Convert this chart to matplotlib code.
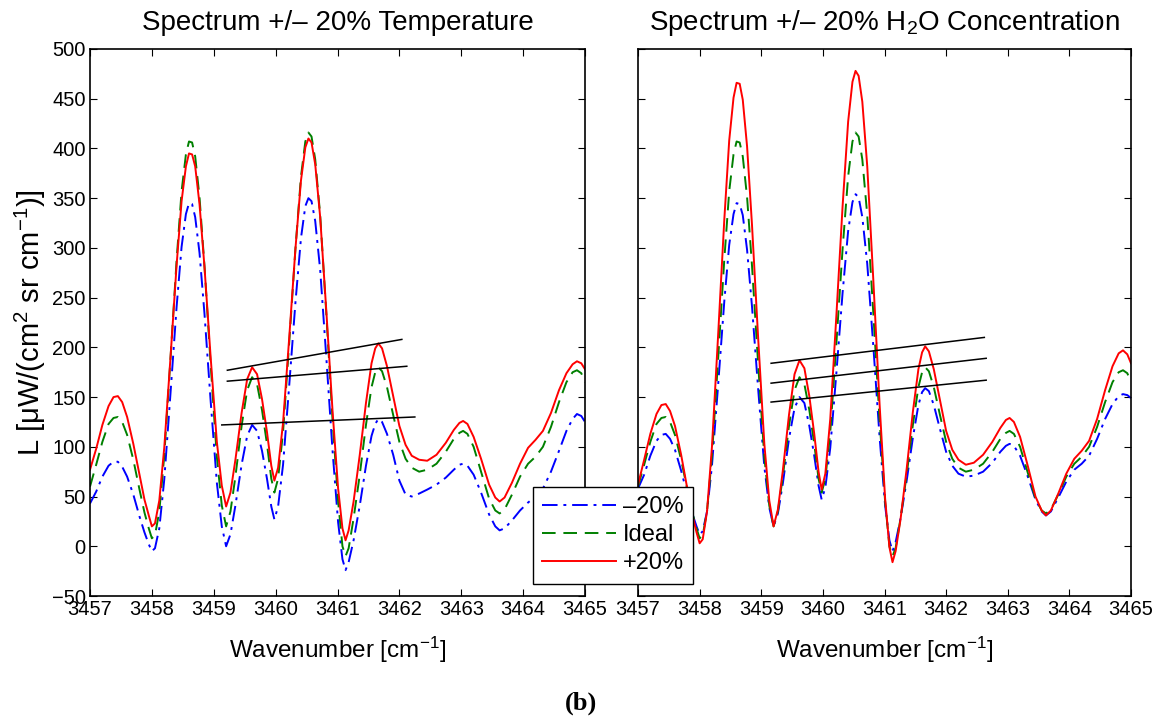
import numpy as np
import matplotlib
matplotlib.use("Agg")
import matplotlib.pyplot as plt

plt.rcParams['font.family'] = ['Liberation Sans', 'DejaVu Sans']
plt.rcParams['mathtext.fontset'] = 'custom'
plt.rcParams['mathtext.rm'] = 'Liberation Sans'
plt.rcParams['mathtext.it'] = 'Liberation Sans'

# ---- data ----
wavenumber = [3457.00, 3457.10, 3457.20, 3457.30, 3457.38, 3457.45, 3457.52, 3457.60, 3457.70, 3457.80,
              3457.88, 3457.95, 3458.00,
              3458.05, 3458.12, 3458.20, 3458.30, 3458.40, 3458.48, 3458.55, 3458.60, 3458.65, 3458.70,
              3458.77, 3458.85, 3458.95, 3459.05, 3459.13, 3459.20,
              3459.27, 3459.35, 3459.45, 3459.54, 3459.62, 3459.70, 3459.78, 3459.86, 3459.93, 3459.98,
              3460.04, 3460.12, 3460.22, 3460.32, 3460.41, 3460.48, 3460.53, 3460.58, 3460.64, 3460.72,
              3460.82, 3460.92, 3461.01, 3461.08, 3461.13,
              3461.18, 3461.26, 3461.36, 3461.46, 3461.55, 3461.61, 3461.66, 3461.72, 3461.80, 3461.90,
              3462.00, 3462.10, 3462.20, 3462.32,
              3462.45, 3462.60, 3462.75, 3462.88, 3462.97, 3463.03, 3463.10, 3463.20, 3463.32, 3463.45,
              3463.55, 3463.62, 3463.70, 3463.82, 3463.95, 3464.08, 3464.20, 3464.32, 3464.45, 3464.58,
              3464.70, 3464.80, 3464.87, 3464.94, 3465.00]

ideal = [60, 82, 105, 123, 129, 130, 125, 112, 87, 57, 34, 18, 8,
         11, 35, 91, 188, 288, 357, 394, 407, 406, 392, 351, 282, 183, 90, 41, 20,
         35, 70, 121, 157, 170, 163, 137, 103, 68, 54,
         68, 115, 205, 299, 372, 407, 416, 412, 389, 333, 233, 127, 45, 0, -10,
         -2, 28, 72, 122, 160, 175, 180, 176, 160, 132, 105, 88, 79, 75,
         77, 83, 95, 108, 114, 116, 113, 100, 75, 48, 36, 33, 37, 52, 70, 83, 90, 100, 120, 145,
         165, 175, 177, 174, 165]

temp_plus20 = [77, 98, 122, 141, 150, 151, 145, 130, 103, 72, 47, 31, 20,
               23, 46, 99, 189, 283, 347, 382, 395, 394, 382, 344, 281, 190, 105, 61, 40,
               54, 87, 134, 168, 180, 173, 148, 115, 81, 66,
               79, 124, 210, 299, 368, 401, 410, 406, 384, 331, 236, 136, 58, 18, 6,
               16, 45, 92, 144, 184, 199, 204, 199, 181, 151, 121, 102, 91, 87,
               86, 92, 104, 117, 124, 126, 123, 110, 88, 62, 49, 45, 49, 64, 83, 99, 107, 116, 134, 157,
               174, 183, 186, 184, 178]

temp_minus20 = [43, 55, 70, 81, 85, 85, 80, 70, 52, 30, 14, 2, -5,
                -2, 18, 67, 153, 241, 301, 334, 345, 344, 331, 295, 234, 146, 64, 20, 0,
                12, 41, 82, 111, 122, 116, 96, 68, 40, 27,
                40, 82, 162, 245, 310, 342, 350, 347, 327, 278, 189, 96, 24, -13, -24,
                -16, 6, 41, 81, 111, 123, 128, 125, 113, 92, 66, 52, 50, 53,
                57, 62, 69, 77, 82, 83, 81, 72, 54, 32, 20, 16, 18, 26, 36, 44, 50, 58, 75, 96,
                116, 128, 133, 131, 125]

h2o_plus20 = [62, 87, 113, 133, 142, 143, 136, 121, 92, 58, 32, 14, 3,
              7, 35, 100, 212, 328, 408, 451, 466, 465, 449, 402, 323, 209, 103, 46, 20,
              37, 76, 132, 173, 187, 179, 151, 113, 75, 57,
              73, 128, 233, 342, 427, 467, 478, 473, 447, 382, 266, 143, 48, -1, -16,
              -5, 27, 78, 135, 178, 195, 201, 196, 178, 147, 116, 97, 87, 82,
              84, 92, 105, 119, 127, 129, 125, 110, 82, 50, 36, 31, 36, 53, 73, 88, 96, 106, 128, 157,
              181, 194, 197, 193, 184]

h2o_minus20 = [58, 72, 91, 106, 112, 113, 108, 97, 76, 52, 33, 20, 12,
               15, 35, 81, 162, 246, 303, 334, 345, 344, 333, 298, 241, 158, 80, 39, 20,
               33, 63, 108, 139, 150, 144, 121, 91, 61, 47,
               59, 99, 175, 255, 317, 346, 354, 351, 331, 284, 200, 110, 41, 6, -5,
               4, 28, 66, 109, 142, 155, 159, 156, 142, 118, 95, 81, 73, 70,
               71, 75, 84, 95, 101, 103, 101, 91, 71, 47, 35, 31, 35, 49, 65, 77, 83, 91, 108, 128,
               143, 151, 153, 152, 149]

# annotation lines (x0, x1) and (y0, y1)
temp_lines_x = [[3459.22, 3462.04], [3459.22, 3462.12], [3459.13, 3462.25]]
temp_lines_y = [[177, 208], [166, 181], [122, 130]]
h2o_lines_x = [[3459.16, 3462.62], [3459.16, 3462.65], [3459.16, 3462.65]]
h2o_lines_y = [[184, 210], [164, 189], [145, 167]]

titles = ["Spectrum +/\u2013 20% Temperature",
          "Spectrum +/\u2013 20% H$_2$O Concentration"]
legend_labels = ["\u201320%", "Ideal", "+20%"]
xticks = list(range(3457, 3466))
yticks = list(range(-50, 501, 50))

# ---- figure ----
W, H = 1162, 723
fig = plt.figure(figsize=(W / 100, H / 100), dpi=100)

def ax_rect(x0, x1, y0, y1):
    return [x0 / W, 1 - y1 / H, (x1 - x0) / W, (y1 - y0) / H]

ax1 = fig.add_axes(ax_rect(90, 585, 49, 596))
ax2 = fig.add_axes(ax_rect(638, 1131, 49, 596))

blue_style = dict(color='#0000ff', lw=1.4, dashes=[8, 3, 1.5, 3])
green_style = dict(color='#008000', lw=1.4, dashes=[7, 4])
red_style = dict(color='#ff0000', lw=1.4, ls='-')

for ax, minus, plus, lx, ly, title in [
        (ax1, temp_minus20, temp_plus20, temp_lines_x, temp_lines_y, titles[0]),
        (ax2, h2o_minus20, h2o_plus20, h2o_lines_x, h2o_lines_y, titles[1])]:
    l1, = ax.plot(wavenumber, minus, **blue_style)
    l2, = ax.plot(wavenumber, ideal, **green_style)
    l3, = ax.plot(wavenumber, plus, **red_style)
    for xs, ys in zip(lx, ly):
        ax.plot(xs, ys, color='black', lw=1.1)
    ax.set_xlim(3457, 3465)
    ax.set_ylim(-50, 500)
    ax.set_xticks(xticks)
    ax.set_yticks(yticks)
    ax.tick_params(direction='in', top=True, right=True, length=5, width=0.8,
                   labelsize=14.5, pad=3)
    for s in ax.spines.values():
        s.set_linewidth(1.2)
    ax.set_title(title, fontsize=20, pad=14)
    ax.set_xlabel("Wavenumber [cm$^{-1}$]", fontsize=17.5, labelpad=11)
    handles = [l1, l2, l3]

ax2.tick_params(labelleft=False)
ax1.set_ylabel("L [\u03bcW/(cm$^2$ sr cm$^{-1}$)]", fontsize=21, labelpad=3)

leg = fig.legend(handles, legend_labels, loc='upper left',
                 bbox_to_anchor=(533 / W, 1 - 487 / H), fontsize=17,
                 frameon=True, fancybox=False, framealpha=1, edgecolor='black',
                 handlelength=3.1, handletextpad=0.3, borderpad=0.4,
                 labelspacing=0.25, borderaxespad=0)
leg.get_frame().set_linewidth(1.0)

fig.text(581 / W, 1 - 703 / H, "(b)", family='Liberation Serif', weight='bold',
         fontsize=19, ha='center', va='center')

fig.savefig("out.png", dpi=100)
